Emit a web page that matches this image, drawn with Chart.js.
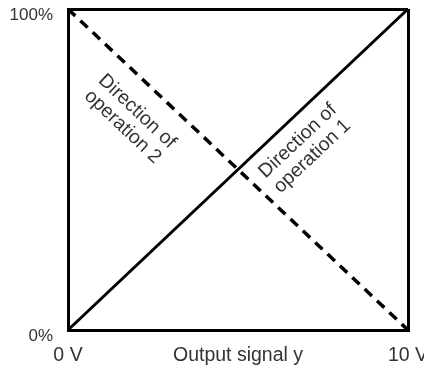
<!DOCTYPE html>
<html>
<head>
<meta charset="utf-8">
<script src="https://cdn.jsdelivr.net/npm/chart.js@4"></script>
<style>
  html, body { margin: 0; padding: 0; background: #fff; }
  #wrap { width: 424px; height: 368px; }
</style>
</head>
<body>
<div id="wrap"><canvas id="chart"></canvas></div>
<script>
// Output signal (V) along x, valve travel (%) along y
const voltages = [0, 10, 10.5];
const operation1 = [0, 100, 100];
const operation2 = [100, 0, 0];

// Tick labels
const xTickLabels = { 0: '0 V', 5: 'Output signal y', 10: '10 V' };
const yTickLabels = { 0: '0%', 100: '100%' };

// Rotated notes, placed in data units
const noteText = [['Direction of', 'operation 1'], ['Direction of', 'operation 2']];
const noteX = [6.97, 1.82];
const noteY = [56.5, 65.7];

const textColor = '#333';
const fontFamily = '"Liberation Sans", Arial, sans-serif';

// Draws the two direction notes, turned to follow their line
const notesPlugin = {
  id: 'notes',
  afterDatasetsDraw(chart) {
    const { ctx, scales: { x, y } } = chart;
    const dx = x.getPixelForValue(10) - x.getPixelForValue(0);
    const dy = y.getPixelForValue(100) - y.getPixelForValue(0);
    const angles = [Math.atan2(dy, dx), Math.atan2(-dy, dx)];
    ctx.save();
    ctx.fillStyle = textColor;
    ctx.font = '19.5px ' + fontFamily;
    ctx.textAlign = 'center';
    ctx.textBaseline = 'middle';
    noteText.forEach((lines, i) => {
      ctx.save();
      ctx.translate(x.getPixelForValue(noteX[i]), y.getPixelForValue(noteY[i]));
      ctx.rotate(angles[i]);
      lines.forEach((line, j) => {
        ctx.fillText(line, 0, (j - (lines.length - 1) / 2) * 21);
      });
      ctx.restore();
    });
    ctx.restore();
  }
};

new Chart(document.getElementById('chart'), {
  type: 'line',
  data: {
    datasets: [
      {
        label: 'Direction of operation 1',
        data: voltages.map((v, i) => ({ x: v, y: operation1[i] })),
        borderColor: '#000',
        borderWidth: 3,
        pointRadius: 0,
        clip: false
      },
      {
        label: 'Direction of operation 2',
        data: voltages.map((v, i) => ({ x: v, y: operation2[i] })),
        borderColor: '#000',
        borderWidth: 3.5,
        borderDash: [10, 7],
        pointRadius: 0,
        clip: false
      }
    ]
  },
  options: {
    responsive: true,
    maintainAspectRatio: false,
    animation: false,
    layout: { padding: { top: 9, right: 16, left: 0, bottom: 0 } },
    plugins: {
      legend: { display: false },
      tooltip: { enabled: false }
    },
    scales: {
      x: {
        type: 'linear',
        min: 0,
        max: 10,
        afterBuildTicks: scale => {
          scale.ticks = Object.keys(xTickLabels).map(v => ({ value: Number(v) }));
        },
        afterFit: scale => {
          scale.height = 38;
          scale.paddingLeft = 0;
          scale.paddingRight = 0;
        },
        ticks: {
          autoSkip: false,
          maxRotation: 0,
          padding: 14,
          color: textColor,
          font: { family: fontFamily, size: 19.5 },
          callback: value => xTickLabels[value]
        },
        grid: {
          drawTicks: false,
          lineWidth: 3,
          color: c => (c.tick && c.tick.value === 10 ? '#000' : 'rgba(0,0,0,0)')
        },
        border: { color: '#000', width: 3 }
      },
      y: {
        min: 0,
        max: 100,
        afterBuildTicks: scale => {
          scale.ticks = Object.keys(yTickLabels).map(v => ({ value: Number(v) }));
        },
        afterFit: scale => {
          scale.width = 68;
          scale.paddingTop = 0;
          scale.paddingBottom = 0;
        },
        ticks: {
          padding: 15,
          labelOffset: 6,
          color: textColor,
          font: { family: fontFamily, size: 17 },
          callback: value => yTickLabels[value]
        },
        grid: {
          drawTicks: false,
          lineWidth: 3,
          color: c => (c.tick && c.tick.value === 100 ? '#000' : 'rgba(0,0,0,0)')
        },
        border: { color: '#000', width: 3 }
      }
    }
  },
  plugins: [notesPlugin]
});
</script>
</body>
</html>
